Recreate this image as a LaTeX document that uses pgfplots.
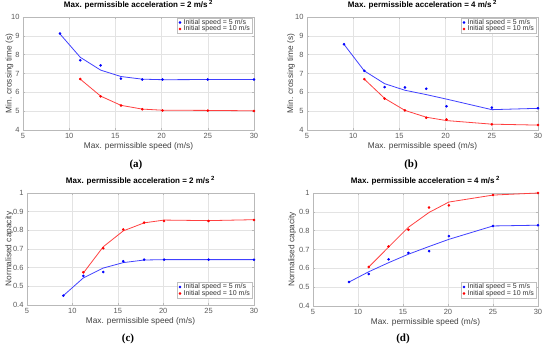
\documentclass[border=0pt]{standalone}
\usepackage{pgfplots}
\pgfplotsset{compat=1.18}
\usepackage{fontspec}
\setsansfont{Liberation Sans}
\newfontfamily\capfont{Liberation Serif}
\definecolor{lblue}{RGB}{64,64,255}
\definecolor{lred}{RGB}{255,64,64}
\pgfplotsset{
  panel/.style={
    scale only axis,
    xmin=5, xmax=30, xtick={5,10,...,30},
    clip=false,
    grid=major,
    grid style={gray!22, line width=0.4pt},
    axis line style={gray!55, line width=0.5pt},
    tick align=inside,
    major tick length=2pt,
    tick style={gray!55, line width=0.4pt},
    ticklabel style={font=\fontsize{7.5}{8}\selectfont\sffamily, text=black!65},
    /pgf/number format/assume math mode=true,
    title style={font=\fontsize{8}{9}\selectfont\sffamily\bfseries, at={(0.5,1)}, anchor=south, yshift=2pt, inner sep=0pt},
    label style={font=\fontsize{8.3}{9}\selectfont\sffamily, text=black!75},
    xlabel style={at={(axis description cs:0.5,-0.146)}, anchor=center},
    legend style={font=\fontsize{7}{7}\selectfont\sffamily, draw=gray!50, fill=white, text=black!80,
      inner sep=0.6pt, row sep=-0.8pt, nodes={inner ysep=0.4pt, inner xsep=1.2pt}},
    legend cell align=left,
    legend image code/.code={\path[draw=none,fill=none] (0pt,0pt) -- (5pt,0pt); \draw[##1] plot coordinates {(2.5pt,0pt)};},
  },
  bpts/.style={only marks, mark=*, mark size=1.1pt, blue},
  rpts/.style={only marks, mark=*, mark size=1.1pt, red},
  bline/.style={lblue, line width=0.8pt, forget plot},
  rline/.style={lred, line width=0.8pt, forget plot},
}
\begin{document}
\begin{tikzpicture}
\useasboundingbox (0pt,0pt) rectangle (550pt,348pt);

% (a)
\begin{axis}[panel, at={(23pt,218pt)}, anchor=south west, width=231pt, height=113pt,
  ymin=4, ymax=10, ytick={4,5,...,10},
  title={Max. permissible acceleration = 2 m/s\kern1.5pt\textsuperscript{2}},
  xlabel={Max. permissible speed (m/s)},
  ylabel={Min. crossing time (s)},
  ylabel style={at={(axis description cs:-0.059,0.5)}, anchor=center},
  legend style={at={(1,1)}, anchor=north east, xshift=-2pt, yshift=-1pt}]
\addplot[bline] coordinates {(9,9.10) (11.2,7.86) (13.4,7.18) (15.6,6.84) (17.9,6.70) (20.1,6.67) (25,6.68) (30,6.68)};
\addplot[rline] coordinates {(11.2,6.70) (13.4,5.80) (15.6,5.31) (17.9,5.11) (20.1,5.05) (25,5.04) (30,5.02)};
\addplot[bpts] coordinates {(9,9.12) (11.2,7.70) (13.4,7.43) (15.6,6.73) (17.9,6.68) (20.1,6.68) (25,6.68) (30,6.68)};
\addplot[rpts] coordinates {(11.2,6.71) (13.4,5.79) (15.6,5.30) (17.9,5.10) (20.1,5.04) (25,5.03) (30,5.01)};
\legend{Initial speed = 5 m/s, Initial speed = 10 m/s}
\end{axis}

% (b)
\begin{axis}[panel, at={(307pt,218pt)}, anchor=south west, width=231pt, height=113pt,
  ymin=4, ymax=10, ytick={4,5,...,10},
  title={Max. permissible acceleration = 4 m/s\kern1.5pt\textsuperscript{2}},
  xlabel={Max. permissible speed (m/s)},
  ylabel={Min. crossing time (s)},
  ylabel style={at={(axis description cs:-0.069,0.5)}, anchor=center},
  legend style={at={(1,1)}, anchor=north east, xshift=-2pt, yshift=-1pt}]
\addplot[bline] coordinates {(9,8.55) (11.2,7.14) (13.4,6.46) (15.6,6.11) (17.9,5.88) (20.1,5.64) (25,5.08) (30,5.15)};
\addplot[rline] coordinates {(11.2,6.70) (13.4,5.68) (15.6,5.04) (17.9,4.68) (20.1,4.50) (25,4.31) (30,4.26)};
\addplot[bpts] coordinates {(9,8.55) (11.2,7.14) (13.4,6.28) (15.6,6.26) (17.9,6.19) (20.1,5.26) (25,5.19) (30,5.15)};
\addplot[rpts] coordinates {(11.2,6.70) (13.4,5.67) (15.6,5.04) (17.9,4.65) (20.1,4.56) (25,4.30) (30,4.26)};
\legend{Initial speed = 5 m/s, Initial speed = 10 m/s}
\end{axis}

% (c)
\begin{axis}[panel, at={(27pt,43pt)}, anchor=south west, width=227pt, height=112pt,
  ymin=0.4, ymax=1, ytick={0.4,0.5,...,1.0},
  yticklabel style={/pgf/number format/fixed, /pgf/number format/precision=1},
  title={Max. permissible acceleration = 2 m/s\kern1.5pt\textsuperscript{2}},
  xlabel={Max. permissible speed (m/s)},
  ylabel={Normalised capacity},
  xlabel style={at={(axis description cs:0.5,-0.147)}},
  ylabel style={at={(axis description cs:-0.078,0.5)}, anchor=center},
  legend style={at={(1,0)}, anchor=south east, xshift=-2pt, yshift=7pt}]
\addplot[bline] coordinates {(9,0.45) (11.2,0.545) (13.4,0.598) (15.6,0.627) (17.9,0.641) (20.1,0.643) (25,0.643) (30,0.643)};
\addplot[rline] coordinates {(11.2,0.571) (13.4,0.712) (15.6,0.797) (17.9,0.840) (20.1,0.855) (25,0.852) (30,0.857)};
\addplot[bpts] coordinates {(9,0.45) (11.2,0.556) (13.4,0.577) (15.6,0.634) (17.9,0.643) (20.1,0.643) (25,0.643) (30,0.643)};
\addplot[rpts] coordinates {(11.2,0.575) (13.4,0.704) (15.6,0.805) (17.9,0.841) (20.1,0.850) (25,0.850) (30,0.855)};
\legend{Initial speed = 5 m/s, Initial speed = 10 m/s}
\end{axis}

% (d)
\begin{axis}[panel, at={(313pt,42pt)}, anchor=south west, width=225pt, height=113pt,
  ymin=0.4, ymax=1, ytick={0.4,0.5,...,1.0},
  yticklabel style={/pgf/number format/fixed, /pgf/number format/precision=1},
  title={Max. permissible acceleration = 4 m/s\kern1.5pt\textsuperscript{2}},
  xlabel={Max. permissible speed (m/s)},
  ylabel={Normalised capacity},
  ylabel style={at={(axis description cs:-0.092,0.5)}, anchor=center},
  legend style={at={(1,0)}, anchor=south east, xshift=-2pt, yshift=8pt}]
\addplot[bline] coordinates {(9,0.527) (11.2,0.582) (13.4,0.630) (15.6,0.675) (17.9,0.716) (20.1,0.754) (25,0.825) (30,0.829)};
\addplot[rline] coordinates {(11.2,0.607) (13.4,0.713) (15.6,0.818) (17.9,0.897) (20.1,0.952) (25,0.989) (30,1.0)};
\addplot[bpts] coordinates {(9,0.527) (11.2,0.570) (13.4,0.648) (15.6,0.682) (17.9,0.691) (20.1,0.771) (25,0.825) (30,0.829)};
\addplot[rpts] coordinates {(11.2,0.607) (13.4,0.716) (15.6,0.805) (17.9,0.923) (20.1,0.934) (25,0.990) (30,1.0)};
\legend{Initial speed = 5 m/s, Initial speed = 10 m/s}
\end{axis}

\node[font=\fontsize{11}{12}\selectfont\capfont\bfseries] at (136pt,183pt) {(a)};
\node[font=\fontsize{11}{12}\selectfont\capfont\bfseries] at (411pt,183pt) {(b)};
\node[font=\fontsize{11}{12}\selectfont\capfont\bfseries] at (128pt,9.5pt) {(c)};
\node[font=\fontsize{11}{12}\selectfont\capfont\bfseries] at (403pt,9.5pt) {(d)};
\end{tikzpicture}
\end{document}
